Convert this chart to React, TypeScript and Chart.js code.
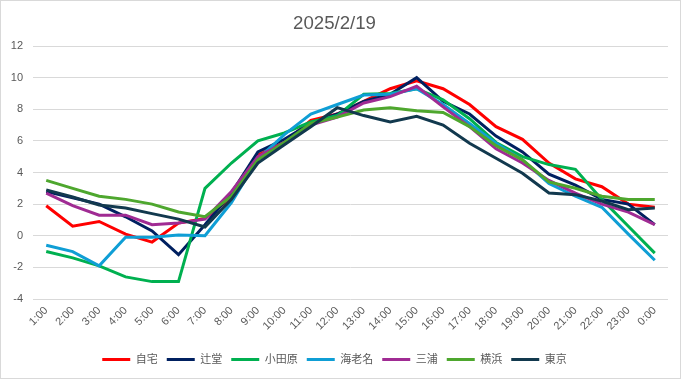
import React, { useEffect, useRef } from "react";
import { Chart, registerables } from "chart.js";

Chart.register(...registerables);

const hours = [
  "1:00", "2:00", "3:00", "4:00", "5:00", "6:00", "7:00", "8:00", "9:00", "10:00", "11:00", "12:00",
  "13:00", "14:00", "15:00", "16:00", "17:00", "18:00", "19:00", "20:00", "21:00", "22:00", "23:00", "0:00",
];

const jitaku = [1.9, 0.6, 0.9, 0.1, -0.4, 0.8, 1.1, 2.4, 5.1, 5.9, 7.3, 7.7, 8.5, 9.3, 9.8, 9.3, 8.3, 6.9, 6.1, 4.6, 3.6, 3.1, 2.0, 1.8];
const tsujido = [2.8, 2.4, 2.0, 1.2, 0.3, -1.2, 0.7, 2.7, 5.3, 6.1, 7.1, 7.7, 8.5, 8.95, 10.0, 8.5, 7.7, 6.3, 5.3, 3.9, 3.2, 2.3, 2.0, 0.7];
const odawara = [-1.0, -1.4, -1.9, -2.6, -2.9, -2.9, 3.0, 4.6, 6.0, 6.5, 7.2, 7.6, 8.95, 9.0, 9.3, 8.6, 7.4, 5.9, 5.0, 4.5, 4.2, 2.3, 0.6, -1.1];
const ebina = [-0.6, -1.0, -1.9, -0.1, -0.1, 0.05, 0.0, 2.1, 4.85, 6.4, 7.7, 8.3, 8.9, 8.95, 9.3, 8.3, 7.1, 5.85, 4.8, 3.3, 2.5, 1.8, 0.1, -1.55];
const miura = [2.7, 1.9, 1.3, 1.3, 0.7, 0.8, 1.05, 2.8, 5.0, 5.9, 7.0, 7.5, 8.4, 8.8, 9.45, 8.15, 6.9, 5.5, 4.6, 3.5, 2.7, 2.0, 1.5, 0.7];
const yokohama = [3.5, 3.0, 2.5, 2.3, 2.0, 1.5, 1.2, 2.5, 4.8, 5.9, 7.1, 7.5, 7.95, 8.1, 7.9, 7.8, 6.9, 5.7, 4.8, 3.4, 3.0, 2.5, 2.3, 2.3];
const tokyo = [2.9, 2.45, 1.95, 1.75, 1.4, 1.05, 0.55, 2.3, 4.6, 5.75, 6.9, 8.1, 7.6, 7.2, 7.55, 7.0, 5.85, 4.9, 3.95, 2.7, 2.6, 2.2, 1.65, 1.75];

const seriesNames = ["自宅", "辻堂", "小田原", "海老名", "三浦", "横浜", "東京"];
const seriesValues = [jitaku, tsujido, odawara, ebina, miura, yokohama, tokyo];
const seriesColors = ["#FF0000", "#002060", "#00B050", "#0F9ED5", "#A02B93", "#4EA72E", "#12394E"];

const titleText = "2025/2/19";
const yMin = -4;
const yMax = 12;
const yStep = 2;

const FONT = "'Liberation Sans', Arial, 'Noto Sans CJK JP', sans-serif";
const TEXT = "#595959";

export default function App() {
  const ref = useRef<HTMLCanvasElement | null>(null);

  useEffect(() => {
    document.body.style.margin = "0";
    const canvas = ref.current;
    if (!canvas) return;
    const n = seriesNames.length;
    const chart = new Chart(canvas, {
      type: "line",
      data: {
        labels: hours,
        datasets: seriesNames.map((name, i) => ({
          label: name,
          data: seriesValues[i],
          borderColor: seriesColors[i],
          backgroundColor: seriesColors[i],
          borderWidth: 3,
          pointRadius: 0,
          pointHoverRadius: 0,
          tension: 0,
          fill: false,
          order: n - i,
        })),
      },
      options: {
        animation: false,
        responsive: true,
        maintainAspectRatio: false,
        layout: { padding: { left: 0, right: 12, top: 0, bottom: 3 } },
        plugins: {
          title: {
            display: true,
            text: titleText,
            color: TEXT,
            font: { family: FONT, size: 18.67, weight: "normal" },
            padding: { top: 12, bottom: 10.6 },
          },
          legend: {
            position: "bottom",
            labels: {
              color: TEXT,
              font: { family: FONT, size: 11 },
              usePointStyle: true,
              pointStyle: "line",
              pointStyleWidth: 28,
              boxHeight: 11,
              padding: 9,
              sort: (a: any, b: any) => a.datasetIndex - b.datasetIndex,
            },
          },
          tooltip: { enabled: false },
        },
        scales: {
          x: {
            type: "category",
            offset: true,
            grid: { display: false, drawTicks: false },
            border: { display: false },
            ticks: {
              color: TEXT,
              font: { family: FONT, size: 11 },
              minRotation: 45,
              maxRotation: 45,
              autoSkip: false,
              padding: 5,
            },
            afterFit: (scale: any) => {
              scale.height = 46;
            },
          },
          y: {
            min: yMin,
            max: yMax,
            grid: { color: "#D9D9D9", drawTicks: false, lineWidth: 1 },
            border: { display: false },
            ticks: {
              stepSize: yStep,
              color: TEXT,
              font: { family: FONT, size: 11 },
              padding: 10,
            },
            afterFit: (scale: any) => {
              scale.width = 32;
            },
          },
        },
      },
    });
    return () => chart.destroy();
  }, []);

  return (
    <div
      style={{
        position: "absolute",
        left: 0,
        top: 0,
        width: 681,
        height: 379,
        border: "1px solid #D9D9D9",
        boxSizing: "border-box",
        background: "#fff",
      }}
    >
      <canvas ref={ref} />
    </div>
  );
}
